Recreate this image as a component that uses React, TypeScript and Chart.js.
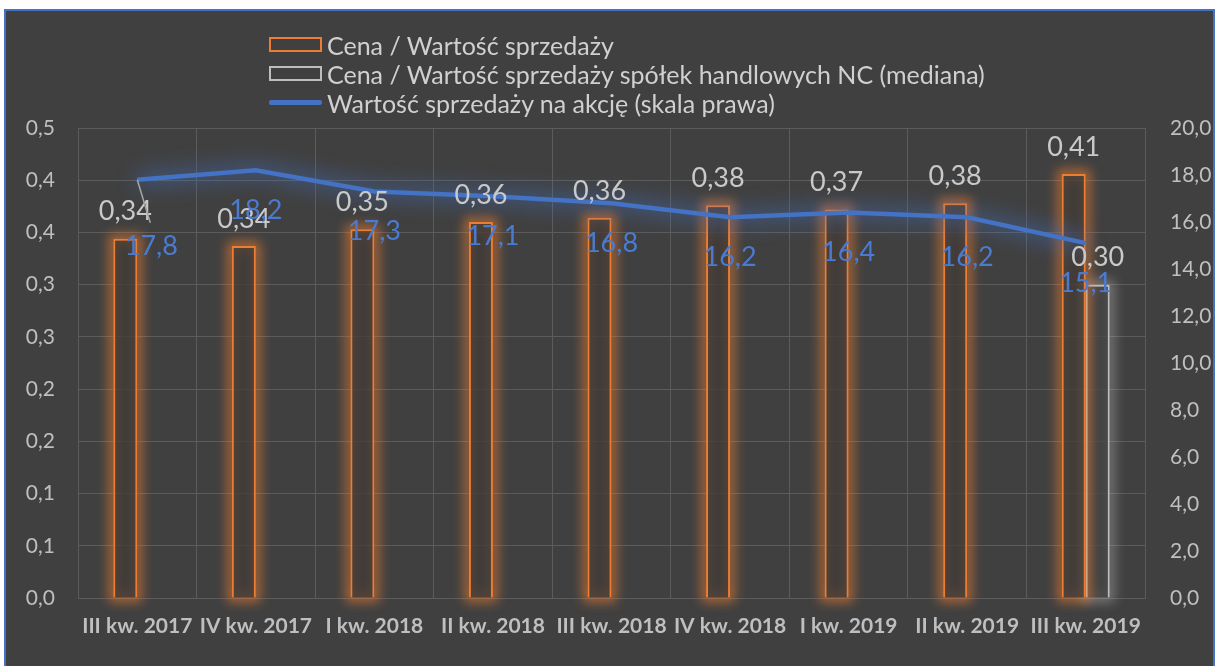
import React, { useEffect, useRef } from 'react';
import { Chart, registerables } from 'chart.js';

Chart.register(...registerables);

const categories = [
  'III kw. 2017',
  'IV kw. 2017',
  'I kw. 2018',
  'II kw. 2018',
  'III kw. 2018',
  'IV kw. 2018',
  'I kw. 2019',
  'II kw. 2019',
  'III kw. 2019',
];
const priceToSales = [0.344, 0.337, 0.353, 0.36, 0.364, 0.376, 0.372, 0.378, 0.406];
const priceToSalesMedianNC = [null, null, null, null, null, null, null, null, 0.3];
const salesPerShare = [17.8, 18.2, 17.3, 17.1, 16.8, 16.2, 16.4, 16.2, 15.1];

const seriesNames = [
  'Cena / Wartość sprzedaży',
  'Cena / Wartość sprzedaży spółek handlowych NC (mediana)',
  'Wartość sprzedaży na akcję (skala prawa)',
];

const leftTicks = [0, 0.05, 0.1, 0.15, 0.2, 0.25, 0.3, 0.35, 0.4, 0.45];
const leftTickLabels = ['0,0', '0,1', '0,1', '0,2', '0,2', '0,3', '0,3', '0,4', '0,4', '0,5'];
const rightTicks = [0, 2, 4, 6, 8, 10, 12, 14, 16, 18, 20];

const ORANGE = '#ED7D31';
const GRAY = '#BDBDBD';
const BLUE = '#4472C4';
const LABEL_BLUE = '#4A7BD0';
const FONT = 'Lato, "Open Sans", sans-serif';

const glowPlugin = {
  id: 'glow',
  beforeDatasetDraw(chart: any, args: any) {
    const ds: any = chart.data.datasets[args.index];
    if (!ds.glowColor) return;
    const meta = args.meta;
    const ctx = chart.ctx;
    ctx.save();
    ctx.filter = `blur(${ds.glowBlur || 5}px)`;
    ctx.strokeStyle = ds.glowColor;
    if (ds.type === 'line') {
      ctx.lineWidth = ds.glowWidth || 8;
      ctx.lineJoin = 'round';
      ctx.beginPath();
      meta.data.forEach((pt: any, j: number) => {
        if (j === 0) ctx.moveTo(pt.x, pt.y);
        else ctx.lineTo(pt.x, pt.y);
      });
      ctx.stroke();
    } else {
      ctx.lineWidth = ds.glowWidth || 6;
      meta.data.forEach((el: any, j: number) => {
        if (ds.data[j] == null) return;
        ctx.strokeRect(el.x - el.width / 2, el.y, el.width, el.base - el.y);
      });
    }
    ctx.restore();
  },
};

const fmt = (v: number, d: number) => v.toFixed(d).replace('.', ',');

const labelsPlugin = {
  id: 'valueLabels',
  afterDatasetsDraw(chart: any) {
    const ctx = chart.ctx;
    ctx.save();
    ctx.textAlign = 'center';
    ctx.textBaseline = 'middle';
    chart.data.datasets.forEach((ds: any, i: number) => {
      if (ds.type === 'line') return;
      const meta = chart.getDatasetMeta(i);
      meta.data.forEach((el: any, j: number) => {
        const v = ds.data[j];
        if (v == null) return;
        ctx.font = `27px ${FONT}`;
        ctx.fillStyle = '#C9C9C9';
        ctx.fillText(fmt(v, 2), el.x, el.y - 27);
      });
    });
    chart.data.datasets.forEach((ds: any, i: number) => {
      if (ds.type !== 'line') return;
      const meta = chart.getDatasetMeta(i);
      meta.data.forEach((pt: any, j: number) => {
        const v = ds.data[j];
        if (v == null) return;
        let dx = 0;
        let dy = 40;
        if (j === 0) {
          dx = 14;
          dy = 67;
          ctx.strokeStyle = '#A6A6A6';
          ctx.lineWidth = 1.5;
          ctx.beginPath();
          ctx.moveTo(pt.x, pt.y);
          ctx.lineTo(pt.x + 13, pt.y + 43);
          ctx.stroke();
        }
        ctx.font = `27px ${FONT}`;
        ctx.fillStyle = LABEL_BLUE;
        ctx.fillText(fmt(v, 1), pt.x + dx, pt.y + dy);
      });
    });
    ctx.restore();
  },
};

function Legend() {
  const items = [
    { label: seriesNames[0], kind: 'box', color: ORANGE },
    { label: seriesNames[1], kind: 'box', color: GRAY },
    { label: seriesNames[2], kind: 'line', color: BLUE },
  ];
  return (
    <div style={{ position: 'absolute', left: 269, top: 30, fontFamily: FONT, fontSize: 25, color: '#D0D0D0' }}>
      {items.map((it) => (
        <div key={it.label} style={{ display: 'flex', alignItems: 'center', height: 29, whiteSpace: 'nowrap' }}>
          {it.kind === 'box' ? (
            <div style={{ width: 53, height: 15, boxSizing: 'border-box', border: `2px solid ${it.color}` }} />
          ) : (
            <div style={{ width: 53, height: 5, background: it.color, borderRadius: 2 }} />
          )}
          <span style={{ marginLeft: 5 }}>{it.label}</span>
        </div>
      ))}
    </div>
  );
}

export default function App() {
  const ref = useRef<HTMLCanvasElement | null>(null);

  useEffect(() => {
    if (!ref.current) return;
    const chart = new Chart(ref.current, {
      type: 'bar',
      data: {
        labels: categories,
        datasets: [
          {
            type: 'line',
            label: seriesNames[2],
            data: salesPerShare,
            borderColor: BLUE,
            borderWidth: 4.5,
            pointRadius: 0,
            tension: 0,
            yAxisID: 'y1',
            order: 0,
            glowColor: 'rgba(68,114,196,0.5)',
            glowBlur: 10,
            glowWidth: 14,
          } as any,
          {
            type: 'bar',
            label: seriesNames[0],
            data: priceToSales,
            backgroundColor: 'rgba(60,58,56,0.75)',
            borderColor: ORANGE,
            borderWidth: 2,
            yAxisID: 'y',
            order: 1,
            glowColor: 'rgba(237,125,49,0.75)',
            glowBlur: 6,
            glowWidth: 8,
          } as any,
          {
            type: 'bar',
            label: seriesNames[1],
            data: priceToSalesMedianNC,
            backgroundColor: 'rgba(64,64,64,0.75)',
            borderColor: GRAY,
            borderWidth: 2,
            yAxisID: 'y',
            order: 1,
            glowColor: 'rgba(200,200,200,0.5)',
            glowBlur: 6,
            glowWidth: 8,
          } as any,
        ],
      },
      options: {
        responsive: false,
        animation: false,
        layout: { padding: { top: 128, left: 0, right: 0, bottom: 0 } },
        datasets: { bar: { categoryPercentage: 0.405, barPercentage: 1 } },
        plugins: { legend: { display: false }, tooltip: { enabled: false }, title: { display: false } },
        scales: {
          x: {
            grid: { color: '#5C5C5C', drawTicks: false, offset: true },
            border: { color: '#5C5C5C' },
            ticks: {
              color: '#BFBFBF',
              font: { family: FONT, size: 21, weight: 'bold' },
              padding: 16,
              maxRotation: 0,
              autoSkip: false,
            },
            afterFit: (s: any) => {
              s.height = 68;
            },
          },
          y: {
            position: 'left',
            min: 0,
            max: 0.45,
            grid: { color: '#5C5C5C', drawTicks: false },
            border: { display: false },
            afterBuildTicks: (s: any) => {
              s.ticks = leftTicks.map((v) => ({ value: v }));
            },
            ticks: {
              color: '#BFBFBF',
              font: { family: FONT, size: 21 },
              padding: 23,
              callback: (_v: any, i: number) => leftTickLabels[i],
            },
            afterFit: (s: any) => {
              s.width = 78;
            },
          },
          y1: {
            position: 'right',
            min: 0,
            max: 20,
            grid: { display: false, drawTicks: false },
            border: { display: false },
            afterBuildTicks: (s: any) => {
              s.ticks = rightTicks.map((v) => ({ value: v }));
            },
            ticks: {
              color: '#BFBFBF',
              font: { family: FONT, size: 21 },
              padding: 25,
              callback: (v: any) => fmt(Number(v), 1),
            },
            afterFit: (s: any) => {
              s.width = 71;
            },
          },
        },
      } as any,
      plugins: [glowPlugin, labelsPlugin],
    });
    return () => chart.destroy();
  }, []);

  return (
    <div style={{ position: 'absolute', left: 0, top: 0, width: 1216, height: 666, overflow: 'hidden', background: '#FFFFFF' }}>
      <div
        style={{
          position: 'absolute',
          left: 4,
          top: 9,
          width: 1211,
          height: 680,
          boxSizing: 'border-box',
          background: '#404040',
          borderTop: `2px solid ${BLUE}`,
          borderLeft: `2px solid ${BLUE}`,
          borderRight: `2px solid ${BLUE}`,
        }}
      />
      <canvas ref={ref} width={1216} height={666} style={{ position: 'absolute', left: 0, top: 0, display: 'block' }} />
      <Legend />
    </div>
  );
}
